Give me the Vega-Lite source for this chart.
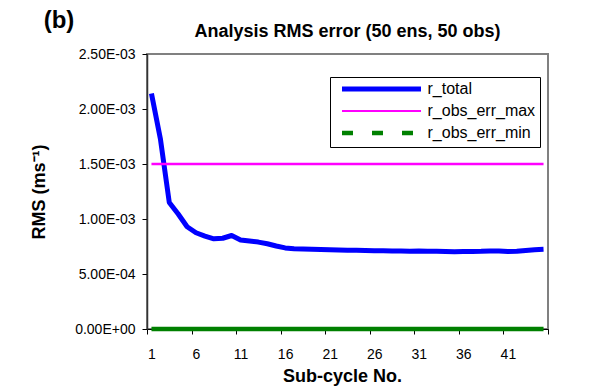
{
  "$schema": "https://vega.github.io/schema/vega-lite/v6.json",
  "background": "white",
  "padding": {"left": 29, "top": 9, "right": 0, "bottom": 0},
  "title": {"text": "(b)", "anchor": "start", "fontSize": 24, "fontWeight": "bold", "font": "Liberation Sans", "color": "black", "offset": -11, "dx": 14},
  "hconcat": [
    {
      "width": 401,
      "height": 275,
      "title": {"text": "Analysis RMS error (50 ens, 50 obs)", "fontSize": 18, "fontWeight": "bold", "font": "Liberation Sans", "color": "black", "offset": 6},
      "data": {"values": [
        {"n": 1, "series": "r_total", "rms": 0.00214},
        {"n": 2, "series": "r_total", "rms": 0.00173},
        {"n": 3, "series": "r_total", "rms": 0.00115},
        {"n": 4, "series": "r_total", "rms": 0.001045},
        {"n": 5, "series": "r_total", "rms": 0.00093},
        {"n": 6, "series": "r_total", "rms": 0.000875},
        {"n": 7, "series": "r_total", "rms": 0.000845},
        {"n": 8, "series": "r_total", "rms": 0.00082},
        {"n": 9, "series": "r_total", "rms": 0.000825},
        {"n": 10, "series": "r_total", "rms": 0.00085},
        {"n": 11, "series": "r_total", "rms": 0.00081},
        {"n": 12, "series": "r_total", "rms": 0.0008},
        {"n": 13, "series": "r_total", "rms": 0.00079},
        {"n": 14, "series": "r_total", "rms": 0.000775},
        {"n": 15, "series": "r_total", "rms": 0.000755},
        {"n": 16, "series": "r_total", "rms": 0.000737},
        {"n": 17, "series": "r_total", "rms": 0.00073},
        {"n": 18, "series": "r_total", "rms": 0.000727},
        {"n": 19, "series": "r_total", "rms": 0.000724},
        {"n": 20, "series": "r_total", "rms": 0.000722},
        {"n": 21, "series": "r_total", "rms": 0.00072},
        {"n": 22, "series": "r_total", "rms": 0.000718},
        {"n": 23, "series": "r_total", "rms": 0.000716},
        {"n": 24, "series": "r_total", "rms": 0.000715},
        {"n": 25, "series": "r_total", "rms": 0.000713},
        {"n": 26, "series": "r_total", "rms": 0.000712},
        {"n": 27, "series": "r_total", "rms": 0.000711},
        {"n": 28, "series": "r_total", "rms": 0.00071},
        {"n": 29, "series": "r_total", "rms": 0.000709},
        {"n": 30, "series": "r_total", "rms": 0.000707},
        {"n": 31, "series": "r_total", "rms": 0.000708},
        {"n": 32, "series": "r_total", "rms": 0.000707},
        {"n": 33, "series": "r_total", "rms": 0.000706},
        {"n": 34, "series": "r_total", "rms": 0.000705},
        {"n": 35, "series": "r_total", "rms": 0.000703},
        {"n": 36, "series": "r_total", "rms": 0.000704},
        {"n": 37, "series": "r_total", "rms": 0.000705},
        {"n": 38, "series": "r_total", "rms": 0.000706},
        {"n": 39, "series": "r_total", "rms": 0.000709},
        {"n": 40, "series": "r_total", "rms": 0.000708},
        {"n": 41, "series": "r_total", "rms": 0.000705},
        {"n": 42, "series": "r_total", "rms": 0.000706},
        {"n": 43, "series": "r_total", "rms": 0.000714},
        {"n": 44, "series": "r_total", "rms": 0.00072},
        {"n": 45, "series": "r_total", "rms": 0.000724},
        {"n": 1, "series": "r_obs_err_max", "rms": 0.0015},
        {"n": 45, "series": "r_obs_err_max", "rms": 0.0015},
        {"n": 1, "series": "r_obs_err_min", "rms": 0},
        {"n": 45, "series": "r_obs_err_min", "rms": 0}
      ]},
      "encoding": {
        "x": {
          "field": "n", "type": "quantitative",
          "scale": {"domain": [0.5, 45.5], "nice": false, "zero": false},
          "axis": {
            "title": "Sub-cycle No.",
            "values": [0.5, 5.5, 10.5, 15.5, 20.5, 25.5, 30.5, 35.5, 40.5, 45.5],
            "labelExpr": "datum.value > 45 ? '' : '' + (datum.value + 0.5)",
            "labelOffset": 4.46, "labelFlush": false, "labelOverlap": false, "labelBound": false,
            "tickSize": 5, "labelPadding": 13, "labelFontSize": 14, "labelFont": "Liberation Sans", "labelColor": "black",
            "titleFontSize": 18, "titleFontWeight": "bold", "titleFont": "Liberation Sans", "titleColor": "black",
            "titlePadding": 6, "titleX": 195,
            "domainColor": "black", "tickColor": "black", "grid": false
          }
        },
        "y": {
          "field": "rms", "type": "quantitative",
          "scale": {"domain": [0, 0.0025], "nice": false},
          "axis": {
            "title": "RMS (ms⁻¹)",
            "values": [0, 0.0005, 0.001, 0.0015, 0.002, 0.0025],
            "labelExpr": "datum.value == 0 ? '0.00E+00' : replace(format(datum.value, '.2e'), 'e-', 'E-0')",
            "tickSize": 5, "labelPadding": 7, "labelFontSize": 14, "labelFont": "Liberation Sans", "labelColor": "black",
            "titleFontSize": 18, "titleFontWeight": "bold", "titleFont": "Liberation Sans", "titleColor": "black",
            "titlePadding": 26,
            "domainColor": "#333333", "domainWidth": 1.5, "tickColor": "black", "grid": false
          }
        },
        "color": {
          "field": "series", "type": "nominal",
          "scale": {"domain": ["r_total", "r_obs_err_max", "r_obs_err_min"], "range": ["#0000FF", "#FF00FF", "#008000"]},
          "legend": {
            "orient": "none", "legendX": 183, "legendY": 23, "title": null,
            "symbolType": "M-7.9,0H7.9", "symbolSize": 100, "symbolOffset": 39.5,
            "labelOffset": 38, "labelFontSize": 16, "labelFont": "Liberation Sans", "labelColor": "black",
            "padding": 4, "rowPadding": 4, "strokeColor": "black", "fillColor": "white", "cornerRadius": 0,
            "encode": {
              "symbols": {"update": {
                "strokeWidth": {"signal": "datum.value === 'r_total' ? 5 : datum.value === 'r_obs_err_max' ? 2 : 4.7"},
                "strokeDash": {"signal": "datum.value === 'r_obs_err_min' ? [11, 19] : [1, 0]"},
                "fill": {"value": "transparent"}
              }}
            }
          }
        }
      },
      "layer": [
        {"transform": [{"filter": "datum.series === 'r_total'"}], "mark": {"type": "line", "strokeWidth": 5, "strokeJoin": "round"}},
        {"transform": [{"filter": "datum.series === 'r_obs_err_max'"}], "mark": {"type": "line", "strokeWidth": 2.3}},
        {"transform": [{"filter": "datum.series === 'r_obs_err_min'"}], "mark": {"type": "line", "strokeWidth": 4.3}}
      ]
    }
  ],
  "config": {
    "font": "Liberation Sans",
    "view": {"stroke": "#808080", "strokeWidth": 2}
  }
}
